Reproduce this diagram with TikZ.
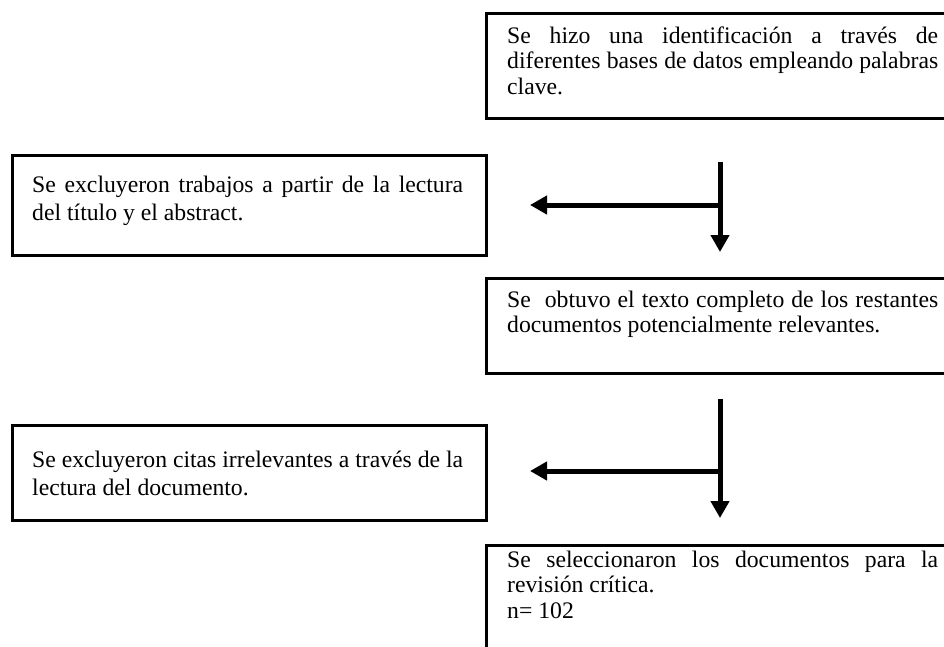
\documentclass[tikz,border=0pt]{standalone}
\usepackage{fontspec}
\setmainfont{Liberation Serif}
\usetikzlibrary{arrows.meta}
\newcommand{\jline}[1]{{\spaceskip=0pt\xspaceskip=0pt\makebox[431pt][s]{#1}}}
\begin{document}
\begin{tikzpicture}[x=1pt,y=-1pt,
  box/.style={draw, line width=3pt, inner sep=0pt, anchor=north west},
  txt/.style={anchor=north west, inner sep=0pt, text width=431pt, align=justify,
    font=\fontsize{23.7}{27.6}\selectfont},
  rtxt/.style={txt, font=\fontsize{23.7}{25.5}\selectfont},
  ltxt/.style={txt, font=\fontsize{23.7}{28}\selectfont},
  arr/.style={line width=5pt, -{Triangle[width=18pt,length=17pt]}}]
\useasboundingbox (0,0) rectangle (944,646);
% boxes
\node[box, minimum width=474pt, minimum height=105pt] (A) at (485,12) {};
\node[box, minimum width=474pt, minimum height=100pt] (B) at (11,154) {};
\node[box, minimum width=474pt, minimum height=95pt] (C) at (485,277) {};
\node[box, minimum width=474pt, minimum height=95pt] (D) at (11,424) {};
\node[box, minimum width=474pt, minimum height=120pt] (E) at (485,544) {};
% texts
\node[rtxt] (tA) at (507,23) {\rule{0pt}{20pt}\jline{Se hizo una identificación a través de}\\\jline{diferentes bases de datos empleando palabras}\\clave.};
\node[ltxt] (tB) at (32,172) {\rule{0pt}{20pt}\jline{Se excluyeron trabajos a partir de la lectura}\\del título y el abstract.};
\node[rtxt] (tC) at (507,287) {\rule{0pt}{20pt}\jline{Se\ \ obtuvo el texto completo de los restantes}\\documentos potencialmente relevantes.};
\node[ltxt] (tD) at (32,447) {\rule{0pt}{20pt}\jline{Se excluyeron citas irrelevantes a través de la}\\lectura del documento.};
\node[rtxt] (tE) at (507,547) {\rule{0pt}{20pt}\jline{Se seleccionaron los documentos para la}\\revisión crítica.\\n= 102};
% arrows
\coordinate (s1) at (720,162);
\coordinate (j1) at (720,205);
\coordinate (e1) at (720,252);
\coordinate (l1) at (530,205);
\coordinate (s2) at (720,399);
\coordinate (j2) at (720,471);
\coordinate (e2) at (720,518);
\coordinate (l2) at (530,471);
\draw[arr] (s1) -- (e1);
\draw[arr] (j1) -- (l1);
\draw[arr] (s2) -- (e2);
\draw[arr] (j2) -- (l2);
\end{tikzpicture}
\end{document}
